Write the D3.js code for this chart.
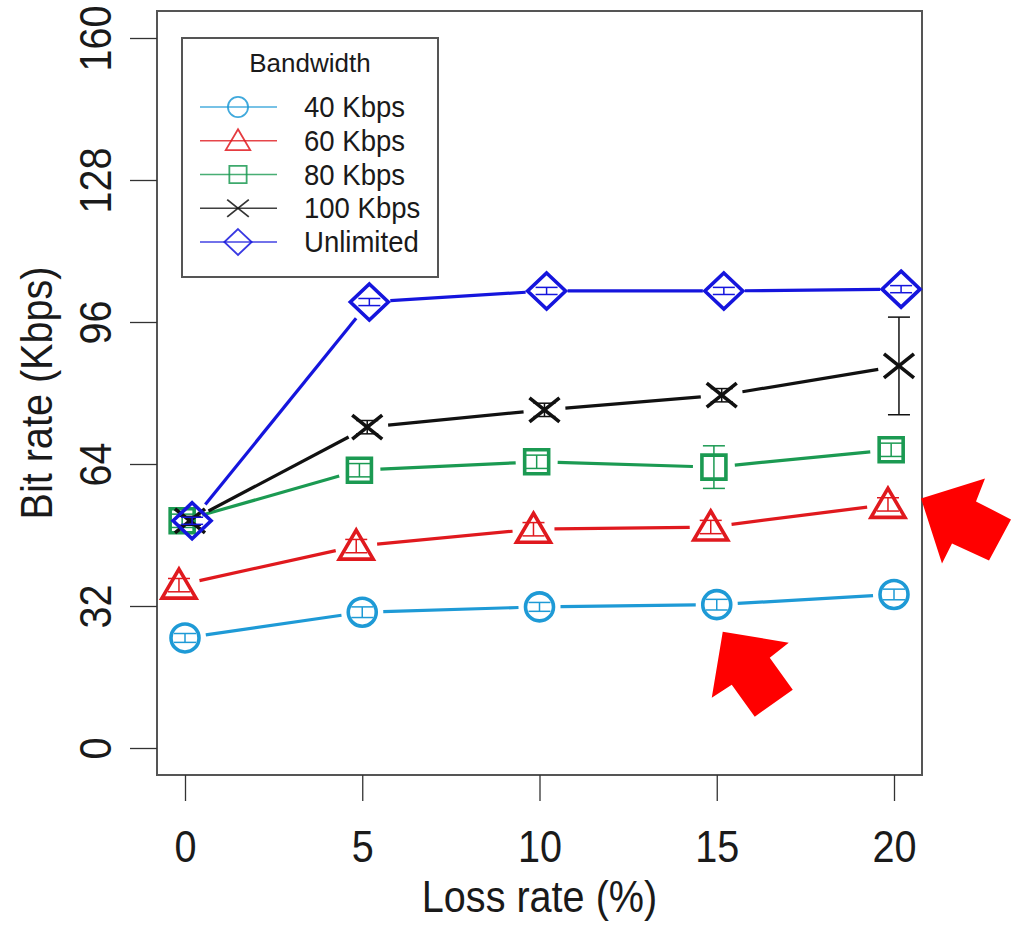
<!DOCTYPE html>
<html>
<head>
<meta charset="utf-8">
<script src="https://cdn.jsdelivr.net/npm/d3@7"></script>
<style>
  html, body { margin: 0; padding: 0; background: #fff; }
  svg { display: block; }
  text { font-family: "Liberation Sans", Arial, Helvetica, sans-serif; fill: #1a1a1a; }
</style>
</head>
<body>
<svg id="chart" width="1022" height="926"></svg>
<script>
// ---------- data ----------
const lossRates = [0, 5, 10, 15, 20];
const xTicks = [0, 5, 10, 15, 20];
const yTicks = [0, 32, 64, 96, 128, 160];
const seriesNames = ["40 Kbps", "60 Kbps", "80 Kbps", "100 Kbps", "Unlimited"];
const bw40  = [24.8, 30.6, 31.8, 32.3, 34.6];
const bw60  = [36.7, 45.5, 49.3, 49.8, 54.9];
const bw80  = [51.2, 62.6, 64.5, 63.3, 67.2];
const bw100 = [51.2, 72.3, 76.2, 79.5, 86.1];
const bwUnl = [51.2, 100.5, 103.0, 103.0, 103.4];
const err40  = [1.0, 1.2, 1.0, 1.2, 1.2];
const err60  = [1.5, 1.5, 1.5, 1.5, 1.5];
const err80  = [1.5, 1.5, 1.5, 4.8, 1.5];
const err100 = [1.0, 1.5, 1.5, 1.5, 11.0];
const errUnl = [0.8, 0.8, 0.8, 0.8, 0.8];
const xJitter = [0, -0.17, -0.08, 0.14, 0.2];

const seriesValues = [bw40, bw60, bw80, bw100, bwUnl];
const seriesErrors = [err40, err60, err80, err100, errUnl];
const colors = ["#1e9ad6", "#e0191e", "#1b9a52", "#111111", "#1515dd"];
const shapes = ["circle", "triangle", "square", "cross", "diamond"];

// ---------- layout ----------
const svg = d3.select("#chart");
const box = { left: 157, top: 11, right: 922, bottom: 775 };
const x = d3.scaleLinear().domain([0, 20]).range([185, 894]);
const y = d3.scaleLinear().domain([0, 160]).range([748, 38]);

function markerPath(shape, s) {
  const p = d3.path();
  if (shape === "circle") {
    p.moveTo(14 * s, 0); p.arc(0, 0, 14 * s, 0, 2 * Math.PI);
  } else if (shape === "triangle") {
    p.moveTo(0, -16 * s); p.lineTo(17 * s, 13 * s); p.lineTo(-17 * s, 13 * s); p.closePath();
  } else if (shape === "square") {
    p.rect(-12 * s, -12 * s, 24 * s, 24 * s);
  } else if (shape === "cross") {
    p.moveTo(-15 * s, -12 * s); p.lineTo(15 * s, 12 * s);
    p.moveTo(-15 * s, 12 * s); p.lineTo(15 * s, -12 * s);
  } else if (shape === "diamond") {
    p.moveTo(0, -18 * s); p.lineTo(19 * s, 0); p.lineTo(0, 18 * s); p.lineTo(-19 * s, 0); p.closePath();
  }
  return p.toString();
}

// ---------- box ----------
svg.append("rect")
  .attr("x", box.left).attr("y", box.top)
  .attr("width", box.right - box.left).attr("height", box.bottom - box.top)
  .attr("fill", "none").attr("stroke", "#555").attr("stroke-width", 2);

// ---------- axes ----------
const xAxis = svg.append("g")
  .attr("transform", `translate(0,${box.bottom})`)
  .call(d3.axisBottom(x).tickValues(xTicks).tickSize(26).tickPadding(0).tickSizeOuter(0));
xAxis.select(".domain").remove();
xAxis.selectAll(".tick line").attr("stroke", "#333").attr("stroke-width", 1.3);
xAxis.selectAll(".tick text")
  .attr("y", 87).attr("dy", null)
  .attr("font-size", 44).attr("fill", "#1a1a1a")
  .attr("transform", "scale(0.9,1)");

const yAxis = svg.append("g")
  .attr("transform", `translate(${box.left},0)`)
  .call(d3.axisLeft(y).tickValues(yTicks).tickSize(27).tickSizeOuter(0));
yAxis.select(".domain").remove();
yAxis.selectAll(".tick line").attr("stroke", "#333").attr("stroke-width", 1.3);
yAxis.selectAll(".tick text")
  .attr("x", null).attr("dy", null).attr("y", null)
  .attr("text-anchor", "middle")
  .attr("font-size", 44).attr("fill", "#1a1a1a")
  .attr("transform", "translate(-46,0) rotate(-90) scale(0.9,1)");

svg.append("text")
  .attr("transform", `translate(${(box.left + box.right) / 2 + 0},912) scale(0.9,1)`)
  .attr("text-anchor", "middle").attr("font-size", 44)
  .text("Loss rate (%)");

svg.append("text")
  .attr("transform", `translate(52,${(box.top + box.bottom) / 2}) rotate(-90) scale(0.9,1)`)
  .attr("text-anchor", "middle").attr("font-size", 44)
  .text("Bit rate (Kbps)");

// ---------- series ----------
const gap = 21;
seriesValues.forEach((vals, si) => {
  const pts = vals.map((v, i) => ({ px: x(lossRates[i] + xJitter[si]), py: y(v), v, e: seriesErrors[si][i] }));
  const g = svg.append("g");
  // line segments with gaps (type = "b")
  for (let i = 0; i < pts.length - 1; i++) {
    const a = pts[i], b = pts[i + 1];
    const dx = b.px - a.px, dy = b.py - a.py, len = Math.hypot(dx, dy);
    if (len <= 2 * gap) continue;
    const ux = dx / len, uy = dy / len;
    g.append("line")
      .attr("x1", a.px + ux * gap).attr("y1", a.py + uy * gap)
      .attr("x2", b.px - ux * gap).attr("y2", b.py - uy * gap)
      .attr("stroke", colors[si]).attr("stroke-width", 3.2).attr("stroke-linecap", "butt");
  }
  // error bars
  pts.forEach(p => {
    const y1 = y(p.v - p.e), y2 = y(p.v + p.e);
    g.append("line").attr("x1", p.px).attr("x2", p.px).attr("y1", y1).attr("y2", y2)
      .attr("stroke", colors[si]).attr("stroke-width", 1.5);
    [y1, y2].forEach(yy => g.append("line")
      .attr("x1", p.px - 11).attr("x2", p.px + 11).attr("y1", yy).attr("y2", yy)
      .attr("stroke", colors[si]).attr("stroke-width", 1.5));
  });
  // markers
  g.selectAll("path.mk").data(pts).join("path")
    .attr("class", "mk")
    .attr("transform", d => `translate(${d.px},${d.py})`)
    .attr("d", markerPath(shapes[si], 1))
    .attr("fill", "none").attr("stroke", colors[si]).attr("stroke-width", 3.6);
});

// ---------- legend ----------
const lg = svg.append("g");
lg.append("rect").attr("x", 182).attr("y", 38).attr("width", 256).attr("height", 239)
  .attr("fill", "#fff").attr("stroke", "#555").attr("stroke-width", 2);
lg.append("text").attr("x", 310).attr("y", 72).attr("text-anchor", "middle")
  .attr("font-size", 26).text("Bandwidth");
const rowY = d3.scalePoint().domain(seriesNames).range([107, 242]);
seriesNames.forEach((name, si) => {
  const yy = rowY(name);
  lg.append("line").attr("x1", 200).attr("x2", 277).attr("y1", yy).attr("y2", yy)
    .attr("stroke", colors[si]).attr("stroke-width", 1.5).attr("opacity", 0.8);
  lg.append("path").attr("transform", `translate(238,${yy})`)
    .attr("d", markerPath(shapes[si], 0.72))
    .attr("fill", "none").attr("stroke", colors[si]).attr("stroke-width", 1.8).attr("opacity", 0.85);
  lg.append("text").attr("transform", `translate(304,${yy + 10}) scale(0.95,1)`)
    .attr("font-size", 29).text(name);
});

// ---------- annotation arrows ----------
const arrowShape = [[0,0],[64,-20],[55,3],[90,21],[68,62],[31,45],[21,65]];
function drawArrow(tx, ty, shape) {
  svg.append("path")
    .attr("d", d3.line()(shape.map(([dx, dy]) => [tx + dx, ty + dy])) + "Z")
    .attr("fill", "#ff0000");
}
// right arrow points at 60 Kbps / 20 %
drawArrow(x(20) + 27, y(bw60[4]) - 6, arrowShape);
// lower arrow points at 40 Kbps / 15 %
const arrow2 = [[0,0],[66,11],[47,26],[70,58],[32,85],[9,53],[-11,66]];
drawArrow(x(15) + 6, y(bw40[3]) + 27, arrow2);
</script>
</body>
</html>
